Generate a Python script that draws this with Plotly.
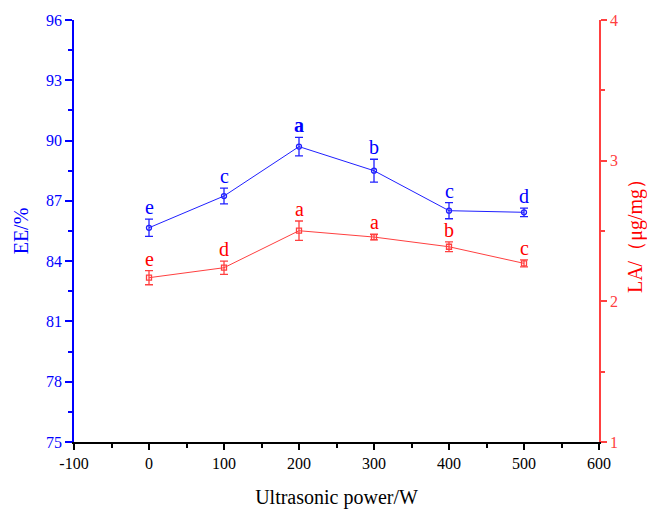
import plotly.graph_objects as go

power = [0, 100, 200, 300, 400, 500]
ee = [85.66, 87.24, 89.70, 88.50, 86.51, 86.43]
ee_err = [0.43, 0.39, 0.46, 0.57, 0.40, 0.21]
ee_letters = ["e", "c", "<b>a</b>", "b", "c", "d"]
la = [2.168, 2.239, 2.502, 2.457, 2.388, 2.270]
la_err = [0.05, 0.047, 0.069, 0.02, 0.035, 0.025]
la_letters = ["e", "d", "a", "a", "b", "c"]
x_ticks = [-100, 0, 100, 200, 300, 400, 500, 600]
x_tick_labels = ["-100", "0", "100", "200", "300", "400", "500", "600"]

BLUE = "#0000FF"
BLUE_LINE = "#2020FF"
RED = "#FF0000"
RED_LINE = "#FF4040"
FONT = "Liberation Serif"

fig = go.Figure()
fig.add_trace(go.Scatter(
    x=power, y=ee, mode="lines+markers",
    line=dict(color=BLUE_LINE, width=1),
    marker=dict(symbol="circle-open", size=5, color=BLUE_LINE, line=dict(width=1.3)),
    error_y=dict(type="data", array=ee_err, color=BLUE_LINE, thickness=1.3, width=4),
    showlegend=False, yaxis="y"))
fig.add_trace(go.Scatter(
    x=power, y=la, mode="lines+markers",
    line=dict(color=RED_LINE, width=1),
    marker=dict(symbol="square-open", size=5, color=RED_LINE, line=dict(width=1.3)),
    error_y=dict(type="data", array=la_err, color=RED_LINE, thickness=1.3, width=4),
    showlegend=False, yaxis="y2"))

annotations = []
for x, y, e, t in zip(power, ee, ee_err, ee_letters):
    annotations.append(dict(x=x, y=y + e, xref="x", yref="y", text=t, showarrow=False,
                            yanchor="bottom", yshift=-1,
                            font=dict(family=FONT, size=20, color=BLUE)))
for x, y, e, t in zip(power, la, la_err, la_letters):
    annotations.append(dict(x=x, y=y + e, xref="x", yref="y2", text=t, showarrow=False,
                            yanchor="bottom", yshift=-1,
                            font=dict(family=FONT, size=20, color=RED)))

fig.update_layout(
    width=647, height=509,
    margin=dict(l=74, r=48, t=20, b=67),
    plot_bgcolor="white", paper_bgcolor="white",
    font=dict(family=FONT, size=16),
    xaxis=dict(range=[-100, 600], tickmode="array", tickvals=x_ticks, ticktext=x_tick_labels,
               automargin=False,
               showgrid=False, zeroline=False, showline=True, linecolor="black", linewidth=1.5,
               ticks="outside", ticklen=6, tickwidth=1.5, tickcolor="black",
               minor=dict(dtick=50, tick0=-100, ticks="outside", ticklen=4, tickcolor="black", tickwidth=1.5),
               tickfont=dict(family=FONT, size=16, color="black"),
               title=dict(text="Ultrasonic power/W", font=dict(family=FONT, size=20, color="black"), standoff=22)),
    yaxis=dict(range=[75, 96], tickmode="linear", tick0=75, dtick=3, automargin=False,
               showgrid=False, zeroline=False, showline=True, linecolor=BLUE, linewidth=1.5,
               ticks="outside", ticklen=7, tickwidth=1.5, tickcolor=BLUE,
               minor=dict(dtick=1.5, ticks="outside", ticklen=4, tickcolor=BLUE, tickwidth=1.5),
               tickfont=dict(family=FONT, size=16, color=BLUE),
               title=dict(text="EE/%", font=dict(family=FONT, size=20, color=BLUE), standoff=12)),
    yaxis2=dict(range=[1, 4], tickmode="linear", tick0=1, dtick=1, overlaying="y", side="right",
                automargin=False,
                showgrid=False, zeroline=False, showline=True, linecolor=RED_LINE, linewidth=1.5,
                ticks="outside", ticklen=6, tickwidth=1.5, tickcolor=RED_LINE,
                minor=dict(dtick=0.5, ticks="outside", ticklen=4, tickcolor=RED_LINE, tickwidth=1.5),
                tickfont=dict(family=FONT, size=16, color=RED_LINE),
                title=dict(text="LA/（μg/mg）", font=dict(family=FONT, size=20, color=RED), standoff=14)),
    annotations=annotations,
)

fig.write_html("out.html")
